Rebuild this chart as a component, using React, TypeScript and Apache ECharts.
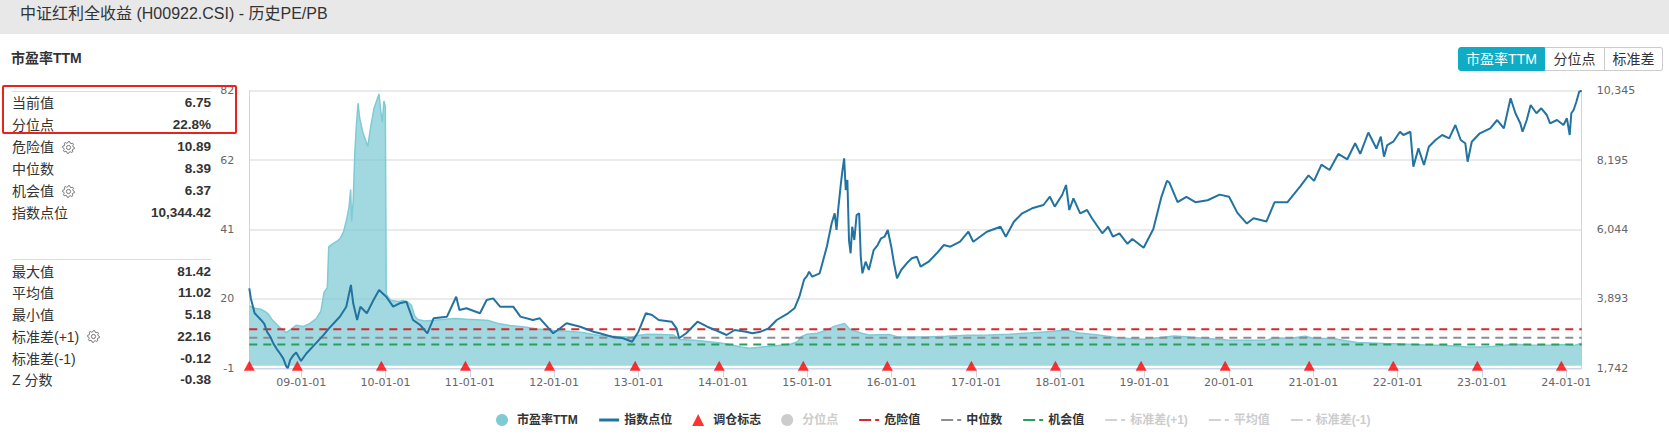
import React, { useEffect, useRef } from "react";
import * as echarts from "echarts";

const TITLE = "中证红利全收益 (H00922.CSI) - 历史PE/PB";
const PANEL_HEADING = "市盈率TTM";
const BUTTONS = ["市盈率TTM", "分位点", "标准差"];

const CURRENT_PE = 6.75;
const PERCENTILE = "22.8%";
const DANGER = 10.89;
const MEDIAN = 8.39;
const CHANCE = 6.37;
const INDEX_NOW = "10,344.42";
const MAX_PE = 81.42;
const MEAN_PE = 11.02;
const MIN_PE = 5.18;
const SD_PLUS = 22.16;
const SD_MINUS = -0.12;
const Z_SCORE = -0.38;

const PE_TICKS = [-0.8, 20, 40.8, 61.6, 82.4];
const PE_TICK_LABELS = ["-1", "20", "41", "62", "82"];
const IDX_TICKS = [1742.4, 3893.15, 6043.9, 8194.65, 10345.4];
const IDX_TICK_LABELS = ["1,742", "3,893", "6,044", "8,195", "10,345"];
const X_TICKS = [
  "2009-01-01", "2010-01-01", "2011-01-01", "2012-01-01", "2013-01-01", "2014-01-01",
  "2015-01-01", "2016-01-01", "2017-01-01", "2018-01-01", "2019-01-01", "2020-01-01",
  "2021-01-01", "2022-01-01", "2023-01-01", "2024-01-01",
];
const X_TICK_LABELS = [
  "09-01-01", "10-01-01", "11-01-01", "12-01-01", "13-01-01", "14-01-01",
  "15-01-01", "16-01-01", "17-01-01", "18-01-01", "19-01-01", "20-01-01",
  "21-01-01", "22-01-01", "23-01-01", "24-01-01",
];

const REBALANCE_DATES = [
  "2008-05-21", "2008-12-15", "2009-12-14", "2010-12-13", "2011-12-12", "2012-12-17",
  "2013-12-16", "2014-12-15", "2015-12-14", "2016-12-12", "2017-12-11", "2018-12-17",
  "2019-12-16", "2020-12-14", "2021-12-13", "2022-12-12", "2023-12-11",
];
const REBALANCE_LEVEL = 0;

const PE_SERIES: [string, number][] = [
  ["2008-05-21", 17.9], ["2008-06-04", 17.5], ["2008-06-18", 17.1], ["2008-07-09", 16.9],
  ["2008-07-30", 16.2], ["2008-08-13", 15.3], ["2008-08-27", 13.8], ["2008-09-17", 12.3],
  ["2008-10-08", 10.9], ["2008-10-28", 9.9], ["2008-11-14", 10.7], ["2008-12-10", 12.1],
  ["2009-01-09", 11.7], ["2009-02-06", 12.6], ["2009-03-06", 14.0], ["2009-03-27", 16.3],
  ["2009-04-10", 22.0], ["2009-04-24", 23.4], ["2009-04-30", 35.6], ["2009-05-15", 36.4],
  ["2009-06-05", 37.3], ["2009-06-19", 38.2], ["2009-07-03", 40.1], ["2009-07-17", 44.0],
  ["2009-07-27", 47.6], ["2009-08-03", 52.8], ["2009-08-07", 43.2], ["2009-08-14", 49.5],
  ["2009-08-21", 63.8], ["2009-08-28", 72.3], ["2009-09-04", 78.6], ["2009-09-11", 74.2],
  ["2009-09-25", 69.8], ["2009-10-16", 65.7], ["2009-10-30", 72.1], ["2009-11-13", 77.3],
  ["2009-11-27", 80.1], ["2009-12-04", 81.42], ["2009-12-11", 76.4], ["2009-12-18", 72.9],
  ["2009-12-25", 79.3], ["2009-12-31", 77.6], ["2010-01-04", 21.4], ["2010-01-22", 19.6],
  ["2010-02-26", 19.2], ["2010-03-19", 19.5], ["2010-04-09", 19.0], ["2010-04-23", 18.1],
  ["2010-05-07", 14.9], ["2010-05-21", 13.8], ["2010-06-18", 13.4], ["2010-07-30", 13.6],
  ["2010-09-17", 13.9], ["2010-10-29", 14.1], ["2010-12-17", 13.9], ["2011-02-18", 13.7],
  ["2011-03-25", 13.5], ["2011-04-29", 12.7], ["2011-06-24", 12.0], ["2011-08-26", 11.6],
  ["2011-10-21", 11.0], ["2011-12-30", 10.5], ["2012-03-02", 10.3], ["2012-05-04", 9.9],
  ["2012-07-13", 9.0], ["2012-09-28", 8.7], ["2012-11-30", 8.5], ["2013-01-04", 9.1],
  ["2013-02-08", 9.4], ["2013-04-12", 9.3], ["2013-05-31", 9.2], ["2013-06-28", 7.8],
  ["2013-08-30", 7.6], ["2013-10-25", 7.2], ["2013-12-20", 6.8], ["2014-01-24", 6.4],
  ["2014-03-21", 5.6], ["2014-04-25", 5.18], ["2014-06-20", 5.6], ["2014-08-29", 6.0],
  ["2014-10-24", 6.5], ["2014-11-21", 7.2], ["2014-12-05", 8.6], ["2014-12-31", 9.4],
  ["2015-02-13", 9.7], ["2015-03-27", 10.7], ["2015-04-30", 11.8], ["2015-06-12", 12.6],
  ["2015-07-03", 11.0], ["2015-08-21", 9.8], ["2015-09-25", 9.2], ["2015-12-25", 9.3],
  ["2016-01-29", 8.6], ["2016-05-27", 8.6], ["2016-08-26", 8.8], ["2016-11-25", 9.1],
  ["2017-02-24", 9.2], ["2017-05-26", 9.4], ["2017-08-25", 9.8], ["2017-11-24", 10.2],
  ["2018-01-26", 10.7], ["2018-03-23", 9.8], ["2018-06-15", 9.2], ["2018-09-14", 8.3],
  ["2018-12-28", 7.9], ["2019-03-08", 8.4], ["2019-05-10", 8.9], ["2019-07-26", 8.5],
  ["2019-09-27", 8.1], ["2019-12-27", 7.7], ["2020-03-27", 7.6], ["2020-06-19", 7.7],
  ["2020-07-10", 8.3], ["2020-09-25", 8.2], ["2020-11-27", 8.8], ["2021-01-08", 8.1],
  ["2021-03-26", 8.1], ["2021-05-28", 7.4], ["2021-07-09", 6.9], ["2021-11-05", 6.6],
  ["2022-01-21", 6.5], ["2022-04-29", 6.2], ["2022-07-29", 6.0], ["2022-10-28", 5.6],
  ["2023-01-13", 5.6], ["2023-03-17", 5.9], ["2023-05-12", 6.4], ["2023-07-28", 6.2],
  ["2023-10-27", 6.1], ["2023-12-29", 6.3], ["2024-02-02", 6.0], ["2024-03-08", 6.75],
];

const INDEX_SERIES: [string, number][] = [
  ["2008-05-21", 4220], ["2008-05-28", 3900], ["2008-06-06", 3650], ["2008-06-13", 3450],
  ["2008-06-20", 3400], ["2008-07-11", 3240], ["2008-07-25", 3120], ["2008-08-06", 2870],
  ["2008-08-20", 2720], ["2008-09-03", 2500], ["2008-09-18", 2330], ["2008-10-01", 2200],
  ["2008-10-15", 2050], ["2008-10-28", 1800], ["2008-11-04", 1750], ["2008-11-14", 2000],
  ["2008-11-28", 2150], ["2008-12-10", 2230], ["2008-12-31", 1970], ["2009-01-23", 2200],
  ["2009-02-26", 2460], ["2009-04-08", 2780], ["2009-05-01", 2980], ["2009-06-17", 3340],
  ["2009-07-15", 3650], ["2009-08-04", 4324], ["2009-08-14", 3757], ["2009-08-31", 3239],
  ["2009-09-14", 3652], ["2009-10-12", 3447], ["2009-11-10", 3859], ["2009-12-04", 4169],
  ["2010-01-04", 3961], ["2010-02-03", 3652], ["2010-03-03", 3757], ["2010-04-01", 3806],
  ["2010-04-30", 3239], ["2010-05-31", 3084], ["2010-07-01", 2827], ["2010-07-28", 3292],
  ["2010-09-24", 3343], ["2010-11-03", 3961], ["2010-11-17", 3549], ["2010-12-17", 3602],
  ["2011-02-14", 3447], ["2011-03-15", 3859], ["2011-04-12", 3910], ["2011-05-12", 3652],
  ["2011-07-08", 3652], ["2011-08-08", 3343], ["2011-10-01", 3239], ["2011-10-31", 3292],
  ["2011-12-28", 2827], ["2012-01-27", 2982], ["2012-02-24", 3137], ["2012-04-23", 3031],
  ["2012-06-20", 2877], ["2012-07-16", 2827], ["2012-09-07", 2722], ["2012-10-26", 2672],
  ["2012-12-04", 2567], ["2012-12-31", 2877], ["2013-02-01", 3447], ["2013-02-28", 3394],
  ["2013-03-29", 3239], ["2013-05-24", 3187], ["2013-06-14", 2982], ["2013-06-25", 2672],
  ["2013-07-26", 2827], ["2013-09-13", 3187], ["2013-10-25", 3031], ["2013-11-29", 2929],
  ["2014-01-17", 2774], ["2014-02-21", 2929], ["2014-04-11", 2877], ["2014-05-09", 2827],
  ["2014-06-13", 2877], ["2014-07-18", 2982], ["2014-08-22", 3239], ["2014-10-10", 3447],
  ["2014-11-07", 3602], ["2014-11-28", 3961], ["2014-12-19", 4500], ["2014-12-31", 4600],
  ["2015-01-09", 4736], ["2015-01-23", 4581], ["2015-02-24", 4686], ["2015-03-27", 5511],
  ["2015-04-17", 6236], ["2015-04-30", 6546], ["2015-05-08", 6028], ["2015-05-15", 6650],
  ["2015-05-27", 7476], ["2015-06-03", 7888], ["2015-06-10", 8250], ["2015-06-17", 7268],
  ["2015-06-24", 7578], ["2015-07-01", 5718], ["2015-07-08", 5306], ["2015-07-15", 6130],
  ["2015-07-24", 5718], ["2015-08-03", 6493], ["2015-08-14", 6546], ["2015-08-21", 5200],
  ["2015-08-28", 4686], ["2015-09-11", 5046], ["2015-09-25", 4789], ["2015-10-16", 5408],
  ["2015-11-02", 5563], ["2015-11-17", 5771], ["2015-12-02", 5821], ["2015-12-16", 6028],
  ["2015-12-31", 5511], ["2016-01-12", 4996], ["2016-01-25", 4531], ["2016-02-12", 4789],
  ["2016-03-07", 4996], ["2016-03-29", 5151], ["2016-04-20", 5200], ["2016-05-06", 4891],
  ["2016-06-10", 5046], ["2016-07-15", 5306], ["2016-08-15", 5563], ["2016-09-12", 5511],
  ["2016-10-24", 5666], ["2016-11-29", 5976], ["2016-12-20", 5666], ["2017-02-17", 5976],
  ["2017-04-17", 6130], ["2017-05-10", 5821], ["2017-06-14", 6285], ["2017-07-20", 6546],
  ["2017-09-01", 6701], ["2017-10-20", 6803], ["2017-11-17", 7060], ["2017-12-08", 6752],
  ["2018-01-09", 7113], ["2018-01-26", 7423], ["2018-02-09", 6648], ["2018-02-27", 7011],
  ["2018-03-28", 6546], ["2018-04-27", 6648], ["2018-05-18", 6391], ["2018-07-02", 5926],
  ["2018-07-27", 6130], ["2018-08-17", 5821], ["2018-09-14", 5926], ["2018-10-19", 5600],
  ["2018-11-09", 5750], ["2018-12-28", 5480], ["2019-02-08", 6060], ["2019-03-15", 7057],
  ["2019-04-08", 7555], ["2019-04-19", 7490], ["2019-05-24", 6890], ["2019-07-01", 7057],
  ["2019-08-09", 6890], ["2019-10-01", 6950], ["2019-11-22", 7124], ["2020-01-02", 7057],
  ["2020-02-07", 6559], ["2020-03-19", 6227], ["2020-04-17", 6393], ["2020-06-12", 6293],
  ["2020-07-17", 6890], ["2020-09-11", 6890], ["2020-11-06", 7389], ["2020-12-11", 7722],
  ["2021-01-04", 7550], ["2021-02-05", 8054], ["2021-03-12", 7888], ["2021-04-19", 8386],
  ["2021-05-28", 8220], ["2021-07-01", 8718], ["2021-07-23", 8386], ["2021-08-27", 9050],
  ["2021-10-01", 8552], ["2021-10-20", 8920], ["2021-11-03", 8300], ["2021-11-17", 8662],
  ["2021-12-13", 8765], ["2022-01-11", 9074], ["2022-01-26", 8972], ["2022-02-25", 9074],
  ["2022-03-10", 7990], ["2022-04-01", 8560], ["2022-04-25", 8043], ["2022-05-16", 8610],
  ["2022-06-14", 8817], ["2022-07-13", 8972], ["2022-08-12", 8870], ["2022-09-08", 9283],
  ["2022-10-01", 8817], ["2022-10-21", 8715], ["2022-10-31", 8145], ["2022-11-18", 8765],
  ["2022-12-23", 9025], ["2023-02-06", 9180], ["2023-03-08", 9437], ["2023-04-06", 9180],
  ["2023-05-05", 10110], ["2023-05-26", 9645], ["2023-06-16", 9335], ["2023-06-26", 9074],
  ["2023-07-14", 9437], ["2023-07-31", 9902], ["2023-08-25", 9645], ["2023-09-15", 9800],
  ["2023-10-09", 9592], ["2023-10-23", 9335], ["2023-11-22", 9437], ["2023-12-20", 9283],
  ["2024-01-04", 9490], ["2024-01-16", 8972], ["2024-01-23", 9645], ["2024-02-02", 9747],
  ["2024-02-14", 10004], ["2024-02-26", 10314], ["2024-03-08", 10344.42],
];

const LEGEND_HIDDEN = ["分位点", "标准差(+1)", "平均值", "标准差(-1)"];

const UI_FONT = '"Liberation Sans", Arial, "Noto Sans CJK SC", sans-serif';
const AXIS_FONT = '"DejaVu Sans", "Noto Sans CJK SC", sans-serif';

const TOP_ROWS = [
  { label: "当前值", value: CURRENT_PE.toFixed(2) },
  { label: "分位点", value: PERCENTILE },
  { label: "危险值", value: DANGER.toFixed(2), gear: 62 },
  { label: "中位数", value: MEDIAN.toFixed(2) },
  { label: "机会值", value: CHANCE.toFixed(2), gear: 62 },
  { label: "指数点位", value: INDEX_NOW },
];
const BOTTOM_ROWS = [
  { label: "最大值", value: MAX_PE.toFixed(2) },
  { label: "平均值", value: MEAN_PE.toFixed(2) },
  { label: "最小值", value: MIN_PE.toFixed(2) },
  { label: "标准差(+1)", value: SD_PLUS.toFixed(2), gear: 87 },
  { label: "标准差(-1)", value: SD_MINUS.toFixed(2) },
  { label: "Z 分数", value: Z_SCORE.toFixed(2) },
];

// date string -> timestamp (ms, UTC) for the value-type x axis
const ts = (d: string) => Date.parse(d + "T00:00:00Z");

function lookupLabel(ticks: number[], labels: string[], v: number) {
  let best = 0;
  for (let i = 1; i < ticks.length; i++) {
    if (Math.abs(ticks[i] - v) < Math.abs(ticks[best] - v)) best = i;
  }
  return labels[best];
}

function Gear({ left, top }: { left: number; top: number }) {
  const pts: string[] = [];
  const n = 8;
  for (let i = 0; i < n * 4; i++) {
    const a = (i / (n * 4)) * Math.PI * 2;
    const r = i % 4 < 2 ? 6 : 4.6;
    pts.push(`${(6.5 + r * Math.cos(a)).toFixed(2)},${(6.5 + r * Math.sin(a)).toFixed(2)}`);
  }
  return (
    <svg width={13} height={13} style={{ position: "absolute", left, top }}>
      <polygon points={pts.join(" ")} fill="none" stroke="#777" strokeWidth={1} strokeLinejoin="round" />
      <circle cx={6.5} cy={6.5} r={2.1} fill="none" stroke="#777" strokeWidth={1} />
    </svg>
  );
}

function StatRows({ rows, firstCenter, step }: { rows: any[]; firstCenter: number; step: number }) {
  return (
    <>
      {rows.map((r, i) => (
        <div
          key={r.label}
          style={{
            position: "absolute",
            left: 12,
            width: 199,
            top: firstCenter + i * step - 11,
            height: 22,
            lineHeight: "22px",
            display: "flex",
            justifyContent: "space-between",
            color: "#333",
            fontSize: 14,
          }}
        >
          <span>{r.label}</span>
          <span style={{ fontWeight: "bold", fontSize: 13.5 }}>{r.value}</span>
          {r.gear ? <Gear left={r.gear - 12} top={4.5} /> : null}
        </div>
      ))}
    </>
  );
}

export default function App() {
  const ref = useRef<HTMLDivElement>(null);

  useEffect(() => {
    if (!ref.current) return;
    const chart = echarts.init(ref.current, null, { renderer: "svg" });
    const start = ts(PE_SERIES[0][0]);
    const end = ts(PE_SERIES[PE_SERIES.length - 1][0]);
    const xTicks = X_TICKS.map(ts);
    const flat = (v: number) => [[start, v], [end, v]];
    const dashed = (name: string, value: number, color: string) => ({
      name,
      type: "line",
      yAxisIndex: 0,
      data: flat(value),
      symbol: "none",
      silent: true,
      z: 3,
      itemStyle: { color },
      lineStyle: { color, width: 2, type: [8, 6] },
    });
    const lineIcon = { itemStyle: { opacity: 0 } };
    const dashIcon = { itemStyle: { opacity: 0 }, lineStyle: { type: [12, 4], width: 2 } };
    const option: any = {
      animation: false,
      textStyle: { fontFamily: AXIS_FONT },
      grid: {
        left: 249.3,
        top: 90.7,
        width: 1332.4,
        height: 277.6,
        containLabel: false,
        outerBoundsMode: "none",
      },
      legend: {
        left: 491,
        top: 409,
        itemWidth: 20,
        itemHeight: 12,
        itemGap: 20,
        symbolKeepAspect: true,
        inactiveColor: "#cccccc",
        itemStyle: { borderWidth: 0 },
        textStyle: { fontSize: 12, fontWeight: "bold", color: "#333", fontFamily: UI_FONT },
        selected: Object.fromEntries(LEGEND_HIDDEN.map((n) => [n, false])),
        data: [
          { name: "市盈率TTM", icon: "circle" },
          { name: "指数点位", ...lineIcon, lineStyle: { width: 3 } },
          { name: "调仓标志", icon: "path://M5,0L10,10L0,10Z" },
          { name: "分位点", icon: "circle" },
          { name: "危险值", ...dashIcon },
          { name: "中位数", ...dashIcon },
          { name: "机会值", ...dashIcon },
          { name: "标准差(+1)", ...dashIcon },
          { name: "平均值", ...dashIcon },
          { name: "标准差(-1)", ...dashIcon },
        ],
      },
      xAxis: {
        type: "value",
        min: start,
        max: end,
        axisLine: { onZero: false, lineStyle: { color: "#ccd6eb", width: 1 } },
        axisTick: { show: true, length: 9, lineStyle: { color: "#ccd6eb" }, customValues: xTicks },
        axisLabel: {
          customValues: xTicks,
          color: "#666",
          fontSize: 11,
          margin: 9,
          fontFamily: AXIS_FONT,
          formatter: (v: number) => lookupLabel(xTicks, X_TICK_LABELS, v),
        },
        splitLine: { show: false },
      },
      yAxis: [
        {
          type: "value",
          position: "left",
          min: PE_TICKS[0],
          max: PE_TICKS[PE_TICKS.length - 1],
          axisLine: { show: true, lineStyle: { color: "#ccd6eb" } },
          axisTick: { show: false, customValues: PE_TICKS },
          axisLabel: {
            customValues: PE_TICKS,
            color: "#666",
            fontSize: 11,
            margin: 15,
            fontFamily: AXIS_FONT,
            formatter: (v: number) => lookupLabel(PE_TICKS, PE_TICK_LABELS, v),
          },
          splitLine: { show: true, lineStyle: { color: "#e3e3e3", width: 1.5 } },
        },
        {
          type: "value",
          position: "right",
          min: IDX_TICKS[0],
          max: IDX_TICKS[IDX_TICKS.length - 1],
          axisLine: { show: true, lineStyle: { color: "#ccd6eb" } },
          axisTick: { show: false, customValues: IDX_TICKS },
          axisLabel: {
            customValues: IDX_TICKS,
            color: "#666",
            fontSize: 11,
            margin: 15,
            fontFamily: AXIS_FONT,
            formatter: (v: number) => lookupLabel(IDX_TICKS, IDX_TICK_LABELS, v),
          },
          splitLine: { show: false },
        },
      ],
      series: [
        {
          name: "市盈率TTM",
          type: "line",
          yAxisIndex: 0,
          data: PE_SERIES.map(([d, v]) => [ts(d), v]),
          symbol: "none",
          z: 2,
          itemStyle: { color: "#7ecbd6" },
          lineStyle: { color: "#7ecbd6", width: 1.5 },
          areaStyle: { color: "#7ecbd6", opacity: 0.72 },
        },
        {
          name: "指数点位",
          type: "line",
          yAxisIndex: 1,
          data: INDEX_SERIES.map(([d, v]) => [ts(d), v]),
          symbol: "none",
          z: 4,
          itemStyle: { color: "#22739f" },
          lineStyle: { color: "#22739f", width: 2 },
        },
        {
          name: "调仓标志",
          type: "scatter",
          yAxisIndex: 0,
          data: REBALANCE_DATES.map((d) => [ts(d), REBALANCE_LEVEL]),
          symbol: "triangle",
          symbolSize: [11, 10],
          z: 5,
          itemStyle: { color: "#ff0000" },
        },
        { name: "分位点", type: "line", yAxisIndex: 0, data: [], symbol: "none", itemStyle: { color: "#bbbbbb" } },
        dashed("危险值", DANGER, "#d22a2f"),
        dashed("中位数", MEDIAN, "#8a8d93"),
        dashed("机会值", CHANCE, "#2a9e5c"),
        dashed("标准差(+1)", SD_PLUS, "#e3a33b"),
        dashed("平均值", MEAN_PE, "#7a5fb0"),
        dashed("标准差(-1)", SD_MINUS, "#5d9be0"),
      ],
    };
    chart.setOption(option);
    return () => chart.dispose();
  }, []);

  return (
    <div
      style={{
        position: "fixed",
        left: 0,
        top: 0,
        width: 1669,
        height: 436,
        background: "#fff",
        fontFamily: UI_FONT,
        overflow: "hidden",
      }}
    >
      <div ref={ref} style={{ position: "absolute", left: 0, top: 0, width: 1669, height: 436 }} />
      <div
        style={{
          position: "absolute",
          left: 0,
          top: 0,
          width: 1669,
          height: 34,
          background: "#e8e8e8",
          pointerEvents: "none",
        }}
      >
        <div style={{ position: "absolute", left: 20, top: 4, lineHeight: "20px", fontSize: 16, color: "#333" }}>
          {TITLE}
        </div>
      </div>
      <div
        style={{
          position: "absolute",
          left: 11,
          top: 48,
          lineHeight: "20px",
          fontSize: 14,
          fontWeight: "bold",
          color: "#333",
        }}
      >
        {PANEL_HEADING}
      </div>
      <div
        style={{
          position: "absolute",
          left: 1458,
          top: 47,
          height: 24,
          display: "flex",
          fontSize: 14,
        }}
      >
        {BUTTONS.map((b, i) => (
          <div
            key={b}
            style={{
              height: 24,
              boxSizing: "border-box",
              lineHeight: "22px",
              width: i === 0 ? 87 : i === 1 ? 60 : 58,
              textAlign: "center",
              background: i === 0 ? "#10abc5" : "#fff",
              color: i === 0 ? "#fff" : "#333",
              border: i === 0 ? "1px solid #10abc5" : "1px solid #cccccc",
              borderLeft: i === 0 ? "1px solid #10abc5" : "none",
              borderRadius: i === 0 ? "3px 0 0 3px" : i === 2 ? "0 3px 3px 0" : 0,
            }}
          >
            {b}
          </div>
        ))}
      </div>
      <div style={{ position: "absolute", left: 12, top: 90.5, width: 199, height: 1, background: "#dddddd" }} />
      <div style={{ position: "absolute", left: 12, top: 258.8, width: 199, height: 1, background: "#dddddd" }} />
      <StatRows rows={TOP_ROWS} firstCenter={103.3} step={22} />
      <StatRows rows={BOTTOM_ROWS} firstCenter={271.7} step={21.7} />
      <div
        style={{
          position: "absolute",
          left: 2,
          top: 85,
          width: 235,
          height: 49,
          boxSizing: "border-box",
          border: "2.5px solid #e8231e",
          borderRadius: 2,
          pointerEvents: "none",
        }}
      />
    </div>
  );
}
